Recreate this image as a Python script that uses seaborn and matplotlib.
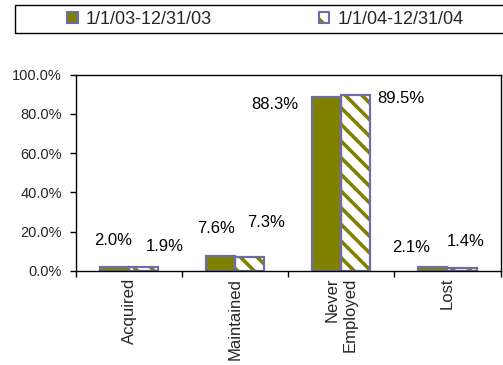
import matplotlib
matplotlib.use("Agg")
import matplotlib.pyplot as plt
from matplotlib.patches import Patch, Rectangle
from matplotlib.legend_handler import HandlerTuple
from matplotlib.ticker import FuncFormatter, FixedLocator
import seaborn as sns
import pandas as pd

# ---- data ----
categories = ["Acquired", "Maintained", "Never\nEmployed", "Lost"]
periods = ["1/1/03-12/31/03", "1/1/04-12/31/04"]
values_2003 = [2.0, 7.6, 88.3, 2.1]
values_2004 = [1.9, 7.3, 89.5, 1.4]
y_ticks = [0, 20, 40, 60, 80, 100]

# label offsets (pixels) relative to each bar's top-centre, as placed in the reference
label_dx_2003 = [-1, -5, -52, -22]
label_dy_2003 = [27, 28, -7, 19]
label_dx_2004 = [21, 16, 45, 4]
label_dy_2004 = [21, 34, -3, 27]

olive = "#808000"
slate = "#6E6EA6"

sns.set_theme(style="white")
plt.rcParams["font.family"] = ["Liberation Sans", "DejaVu Sans"]
plt.rcParams["hatch.linewidth"] = 2.6

df = pd.DataFrame({
    "category": categories * 2,
    "period": [periods[0]] * 4 + [periods[1]] * 4,
    "value": values_2003 + values_2004,
})

fig = plt.figure(figsize=(5.03, 3.65), dpi=100)
ax = fig.add_axes([76 / 503, 1 - 271 / 365, (500.5 - 76) / 503, (271 - 74.5) / 365])

# filled / hatched bars
sns.barplot(data=df, x="category", y="value", hue="period", order=categories,
            hue_order=periods, palette=[olive, olive], width=0.55, linewidth=0,
            saturation=1, legend=False, ax=ax)
n = len(categories)
for p in ax.patches[n:2 * n]:
    p.set_facecolor("white")
    p.set_edgecolor(olive)
    p.set_hatch("\\\\")
    p.set_linewidth(0)
fill_patches = list(ax.patches[:2 * n])

# outlines
sns.barplot(data=df, x="category", y="value", hue="period", order=categories,
            hue_order=periods, palette=[slate, slate], width=0.55, fill=False,
            linewidth=1.6, legend=False, ax=ax)

# value labels
vals = values_2003 + values_2004
dxs = label_dx_2003 + label_dx_2004
dys = label_dy_2003 + label_dy_2004
for p, v, dx, dy in zip(fill_patches, vals, dxs, dys):
    xc = p.get_x() + p.get_width() / 2
    ax.annotate(f"{v:.1f}%", xy=(xc, p.get_height()), xytext=(dx, dy),
                textcoords="offset pixels", ha="center", va="center",
                fontsize=12, color="black")

ax.set_ylim(0, 100)
ax.set_xlim(-0.5, n - 0.5)
ax.set_yticks(y_ticks)
ax.yaxis.set_major_formatter(FuncFormatter(lambda v, _: f"{v:.1f}%"))
ax.tick_params(axis="y", which="major", direction="out", length=4, width=1,
               color="black", labelsize=10.5, pad=6, left=True)
ax.set_xticks(range(n))
ax.set_xticklabels(categories, rotation=90, fontsize=12, va="top", ha="center",
                   multialignment="right")
ax.tick_params(axis="x", which="major", length=0, pad=5)
ax.xaxis.set_minor_locator(FixedLocator([i - 0.5 for i in range(n + 1)]))
ax.tick_params(axis="x", which="minor", direction="out", length=4, width=1,
               color="black", bottom=True)
ax.set_xlabel("")
ax.set_ylabel("")
for s in ax.spines.values():
    s.set_visible(True)
    s.set_color("black")
    s.set_linewidth(1)
ax.grid(False)

# legend
h1 = Patch(facecolor=olive, edgecolor=slate, linewidth=1.5)
h2 = (Patch(facecolor="white", edgecolor=olive, hatch="\\", linewidth=0),
      Patch(facecolor="none", edgecolor=slate, linewidth=1.5))
fig.legend([h1, h2], periods, loc="center left",
           bbox_to_anchor=(67 / 503, 1 - 19.5 / 365), ncol=2, frameon=False,
           fontsize=13, handlelength=0.6, handleheight=0.6, handletextpad=0.45,
           columnspacing=5.9, borderpad=0, borderaxespad=0,
           handler_map={tuple: HandlerTuple(ndivide=1, pad=0)})
fig.add_artist(Rectangle((15 / 503, 1 - 33 / 365), 1.0, 28.5 / 365,
                         transform=fig.transFigure, fill=False,
                         edgecolor="black", linewidth=1, clip_on=False))

fig.savefig("out.png", dpi=100)
